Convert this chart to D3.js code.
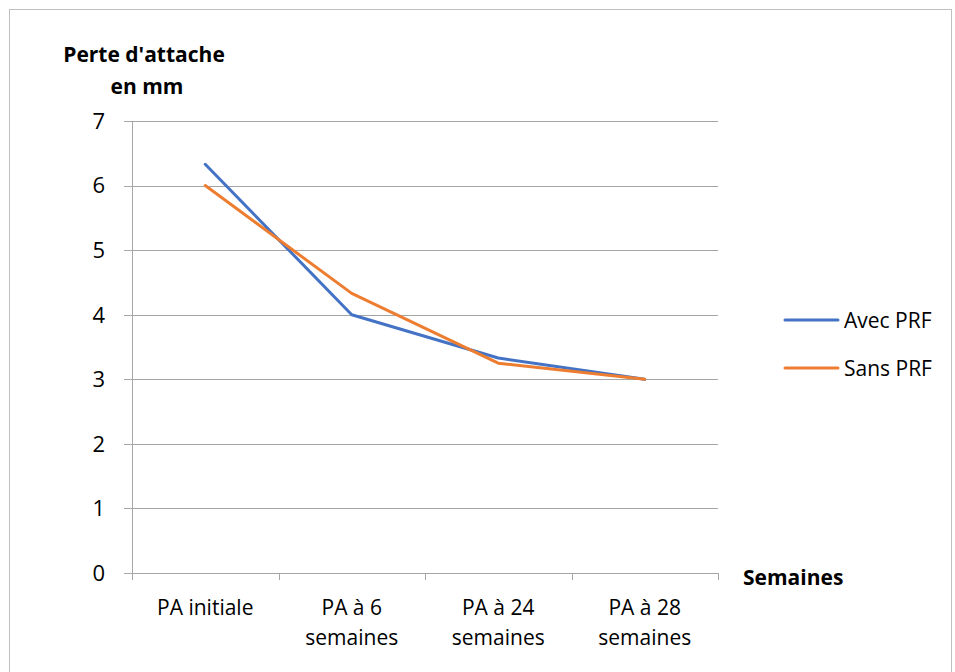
<!DOCTYPE html>
<html lang="fr">
<head>
    <meta charset="UTF-8">
    <title>Perte d'attache</title>
    <script src="https://d3js.org/d3.v7.min.js"></script>
    <style>
        body { margin: 0; background: #fff; }
        text { font-family: "Open Sans", Lato, sans-serif; fill: #000; }
    </style>
</head>
<body>
<svg width="955" height="672"></svg>
<script>
    // données
    var categories = ['PA initiale', 'PA à 6 semaines', 'PA à 24 semaines', 'PA à 28 semaines'];
    var avecPRF = [6.33, 4.0, 3.33, 3.0];
    var sansPRF = [6.0, 4.33, 3.25, 3.0];
    var seriesNames = ['Avec PRF', 'Sans PRF'];
    var seriesColors = ['#4472C4', '#ED7D31'];
    var yTicks = [0, 1, 2, 3, 4, 5, 6, 7];

    var svg = d3.select('svg');

    // cadre
    svg.append('rect')
        .attr('x', 9.5).attr('y', 9.5)
        .attr('width', 942).attr('height', 680)
        .attr('fill', 'none').attr('stroke', '#bfbfbf');

    var pLeft = 132, pRight = 718, pTop = 121, pBottom = 573;

    var x = d3.scaleBand().domain(categories).range([pLeft, pRight]);
    var y = d3.scaleLinear().domain([0, 7]).range([pBottom, pTop]);

    // grille
    svg.append('g')
        .selectAll('line')
        .data(yTicks)
        .enter()
        .append('line')
        .attr('x1', pLeft - 8)
        .attr('x2', pRight)
        .attr('y1', function (d) { return Math.round(y(d)) + 0.5; })
        .attr('y2', function (d) { return Math.round(y(d)) + 0.5; })
        .attr('stroke', '#a6a6a6')
        .attr('stroke-width', 1);

    // axe y
    svg.append('line')
        .attr('x1', pLeft + 0.5).attr('x2', pLeft + 0.5)
        .attr('y1', pTop).attr('y2', pBottom)
        .attr('stroke', '#a6a6a6');

    svg.append('g')
        .selectAll('text')
        .data(yTicks)
        .enter()
        .append('text')
        .attr('x', 105)
        .attr('y', function (d) { return y(d); })
        .attr('dy', '0.36em')
        .attr('text-anchor', 'end')
        .attr('font-size', 22)
        .text(function (d) { return d; });

    // graduations x
    var xTickPos = categories.map(function (c) { return x(c); }).concat([pRight]);
    svg.append('g')
        .selectAll('line')
        .data(xTickPos)
        .enter()
        .append('line')
        .attr('x1', function (d) { return Math.round(d) + 0.5; })
        .attr('x2', function (d) { return Math.round(d) + 0.5; })
        .attr('y1', pBottom)
        .attr('y2', pBottom + 7)
        .attr('stroke', '#a6a6a6');

    // étiquettes x (sur deux lignes)
    var xl = svg.append('g')
        .selectAll('text')
        .data(categories)
        .enter()
        .append('text')
        .attr('text-anchor', 'middle')
        .attr('font-size', 21)
        .attr('x', function (d) { return x(d) + x.bandwidth() / 2; })
        .attr('y', 615);
    xl.each(function (d) {
        var t = d3.select(this);
        var parts = d.indexOf(' semaines') > 0 ? [d.replace(' semaines', ''), 'semaines'] : [d];
        parts.forEach(function (p, i) {
            t.append('tspan')
                .attr('x', x(d) + x.bandwidth() / 2)
                .attr('dy', i === 0 ? 0 : 30)
                .text(p);
        });
    });

    // courbes
    var line = d3.line()
        .x(function (d, i) { return x(categories[i]) + x.bandwidth() / 2; })
        .y(function (d) { return y(d); });

    [avecPRF, sansPRF].forEach(function (s, i) {
        svg.append('path')
            .attr('d', line(s))
            .attr('fill', 'none')
            .attr('stroke', seriesColors[i])
            .attr('stroke-width', 3)
            .attr('stroke-linejoin', 'round')
            .attr('stroke-linecap', 'round');
    });

    // titres des axes
    var yTitle = svg.append('text')
        .attr('font-size', 21)
        .attr('font-weight', 'bold')
        .attr('text-anchor', 'middle');
    yTitle.append('tspan').attr('x', 144).attr('y', 62).text("Perte d'attache");
    yTitle.append('tspan').attr('x', 147).attr('y', 94).text('en mm');

    svg.append('text')
        .attr('x', 743)
        .attr('y', 585)
        .attr('font-size', 21)
        .attr('font-weight', 'bold')
        .text('Semaines');

    // légende
    var lg = svg.append('g')
        .selectAll('g')
        .data(seriesNames)
        .enter()
        .append('g')
        .attr('transform', function (d, i) { return 'translate(785,' + (320 + i * 48) + ')'; });
    lg.append('line')
        .attr('x1', 0).attr('x2', 53)
        .attr('stroke', function (d, i) { return seriesColors[i]; })
        .attr('stroke-width', 3)
        .attr('stroke-linecap', 'round');
    lg.append('text')
        .attr('x', 59)
        .attr('dy', '0.36em')
        .attr('font-size', 21)
        .text(function (d) { return d; });
</script>
</body>
</html>
